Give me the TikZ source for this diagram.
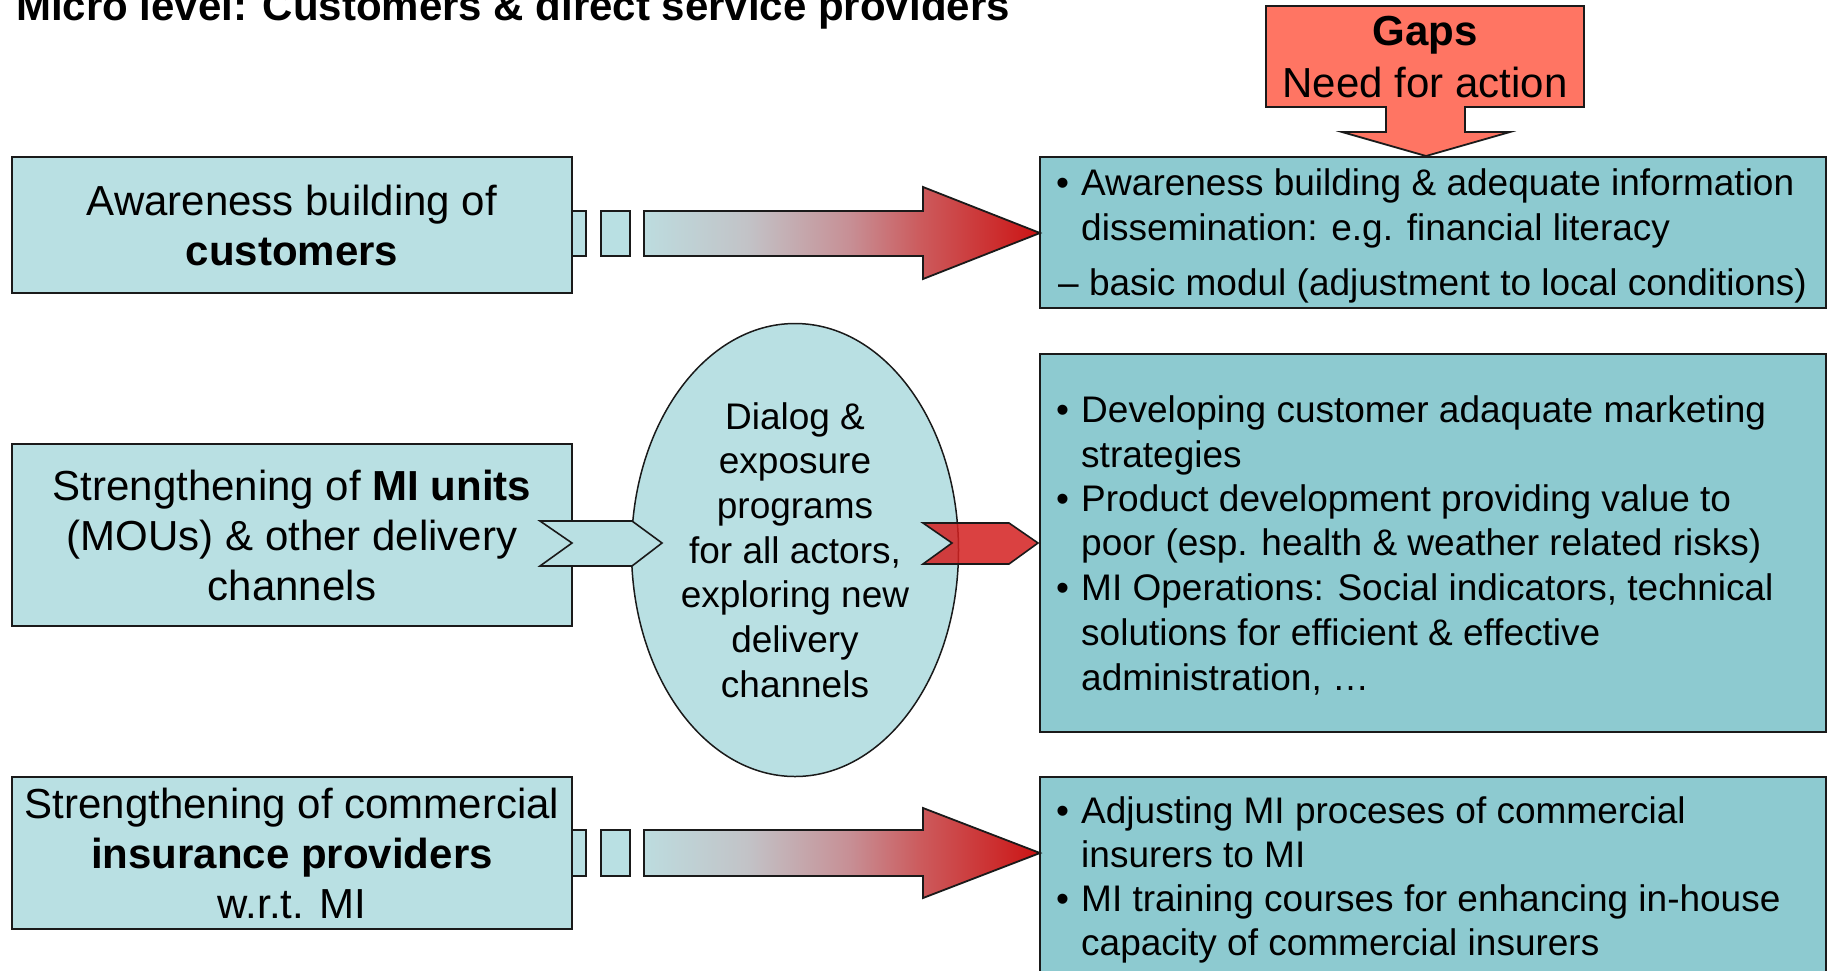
\documentclass[tikz,border=0pt]{standalone}
\usepackage{fontspec}
\setmainfont{Liberation Sans}
\usetikzlibrary{shapes.geometric}
\definecolor{cyanl}{HTML}{B9E0E3}
\definecolor{rightfill}{HTML}{8DCAD0}
\definecolor{salmon}{HTML}{FF7563}
\definecolor{gstart}{HTML}{BDDCDF}
\definecolor{ggrey}{HTML}{C2C3C7}
\definecolor{gpink}{HTML}{C78F95}
\definecolor{gsalm}{HTML}{CC5A5C}
\definecolor{gred}{HTML}{CC1414}
\definecolor{chevred}{HTML}{D42020}
\definecolor{edge}{HTML}{1A1A1A}
\pgfdeclarehorizontalshading{arrgrad}{100bp}{color(0bp)=(gstart); color(25bp)=(gstart); color(38bp)=(ggrey); color(51bp)=(gpink); color(60bp)=(gsalm); color(75bp)=(gred); color(100bp)=(gred)}
\begin{document}
\begin{tikzpicture}[x=1pt,y=-1pt,
  leftbox/.style={draw=edge, line width=1.8pt, fill=cyanl, inner sep=0pt, minimum width=560pt, align=center, font=\fontsize{42}{50}\selectfont},
  rightbox/.style={draw=edge, line width=1.8pt, fill=rightfill, inner sep=0pt, minimum width=786pt},
  rtext/.style={anchor=base west, inner sep=0pt, font=\fontsize{37}{44}\selectfont},
  outl/.style={draw=edge, line width=1.8pt, line join=miter},
  gradarrow/.style={outl, shading=arrgrad},
  smallrect/.style={outl, fill=cyanl}
]
\useasboundingbox (0,0) rectangle (1831,970);
\clip (0,0) rectangle (1831,970);

% title
\node[anchor=base west, inner sep=0pt, font=\bfseries\fontsize{42}{50}\selectfont] (title) at (16,20) {Micro level: Customers \& direct service providers};

% left boxes
\node[leftbox, minimum height=136pt] (b1) at (292,225) {Awareness building of\\\textbf{customers}};
\node[leftbox, minimum height=182pt] (b2) at (292,535) {Strengthening of \textbf{MI units}\\(MOUs) \& other delivery\\channels};
\node[leftbox, minimum height=152pt] (b3) at (292,853) {Strengthening of commercial\\\textbf{insurance providers}\\w.r.t. MI};

% right boxes
\node[rightbox, minimum height=151pt] (r1) at (1433,232.5) {};
\node[rightbox, minimum height=378pt] (r2) at (1433,543) {};
\node[rightbox, minimum height=223pt] (r3) at (1433,888.5) {};

% ellipse
\node[ellipse, draw=edge, line width=1.5pt, fill=cyanl, inner sep=0pt, minimum width=327pt, minimum height=453pt, align=center, font=\fontsize{37}{44.7}\selectfont] (ell) at (795,550) {Dialog \&\\exposure\\programs\\for all actors,\\exploring new\\delivery\\channels};

% gap arrow
\draw[outl, fill=salmon] (1266,6) -- (1584,6) -- (1584,107) -- (1465,107) -- (1465,132) -- (1510,132) -- (1426,156) -- (1342,132) -- (1386,132) -- (1386,107) -- (1266,107) -- cycle;
\node[anchor=base, inner sep=0pt, font=\bfseries\fontsize{42}{50}\selectfont] (gapt) at (1425,45) {Gaps};
\node[anchor=base, inner sep=0pt, font=\fontsize{42}{50}\selectfont] (need) at (1425,97) {Need for action};

% row 1 arrow
\draw[smallrect] (572,211) rectangle (586,256);
\draw[smallrect] (601,211) rectangle (630,256);
\draw[gradarrow] (644,211) -- (923,211) -- (923,187) -- (1040,233) -- (923,279) -- (923,256) -- (644,256) -- cycle;

% row 3 arrow
\draw[smallrect] (572,830) rectangle (586,876);
\draw[smallrect] (601,830) rectangle (630,876);
\draw[gradarrow] (644,830) -- (923,830) -- (923,808) -- (1040,853) -- (923,898) -- (923,876) -- (644,876) -- cycle;

% chevrons
\draw[outl, line width=1.6pt, fill=cyanl] (540,521) -- (632,521) -- (662,543) -- (632,566) -- (540,566) -- (572,543) -- cycle;
\draw[outl, line width=1.6pt, fill=chevred, fill opacity=0.85] (923,523) -- (1009,523) -- (1038,543) -- (1009,564) -- (923,564) -- (952,543) -- cycle;

% right box 1 text
\node[rtext] (r1b1) at (1056,195) {\textbullet};
\node[rtext] (r1l1) at (1081,195) {Awareness building \& adequate information};
\node[rtext] (r1l2) at (1081,240) {dissemination: e.g. financial literacy};
\node[rtext] (r1l3) at (1058,295) {– basic modul (adjustment to local conditions)};

% right box 2 text
\node[rtext] (r2b1) at (1056,422) {\textbullet};
\node[rtext] (r2l1) at (1081,422) {Developing customer adaquate marketing};
\node[rtext] (r2l2) at (1081,467) {strategies};
\node[rtext] (r2b2) at (1056,511) {\textbullet};
\node[rtext] (r2l3) at (1081,511) {Product development providing value to};
\node[rtext] (r2l4) at (1081,555) {poor (esp. health \& weather related risks)};
\node[rtext] (r2b3) at (1056,600) {\textbullet};
\node[rtext] (r2l5) at (1081,600) {MI Operations: Social indicators, technical};
\node[rtext] (r2l6) at (1081,645) {solutions for efficient \& effective};
\node[rtext] (r2l7) at (1081,690) {administration, …};

% right box 3 text
\node[rtext] (r3b1) at (1056,823) {\textbullet};
\node[rtext] (r3l1) at (1081,823) {Adjusting MI proceses of commercial};
\node[rtext] (r3l2) at (1081,867) {insurers to MI};
\node[rtext] (r3b2) at (1056,911) {\textbullet};
\node[rtext] (r3l3) at (1081,911) {MI training courses for enhancing in-house};
\node[rtext] (r3l4) at (1081,955) {capacity of commercial insurers};
\end{tikzpicture}
\end{document}
